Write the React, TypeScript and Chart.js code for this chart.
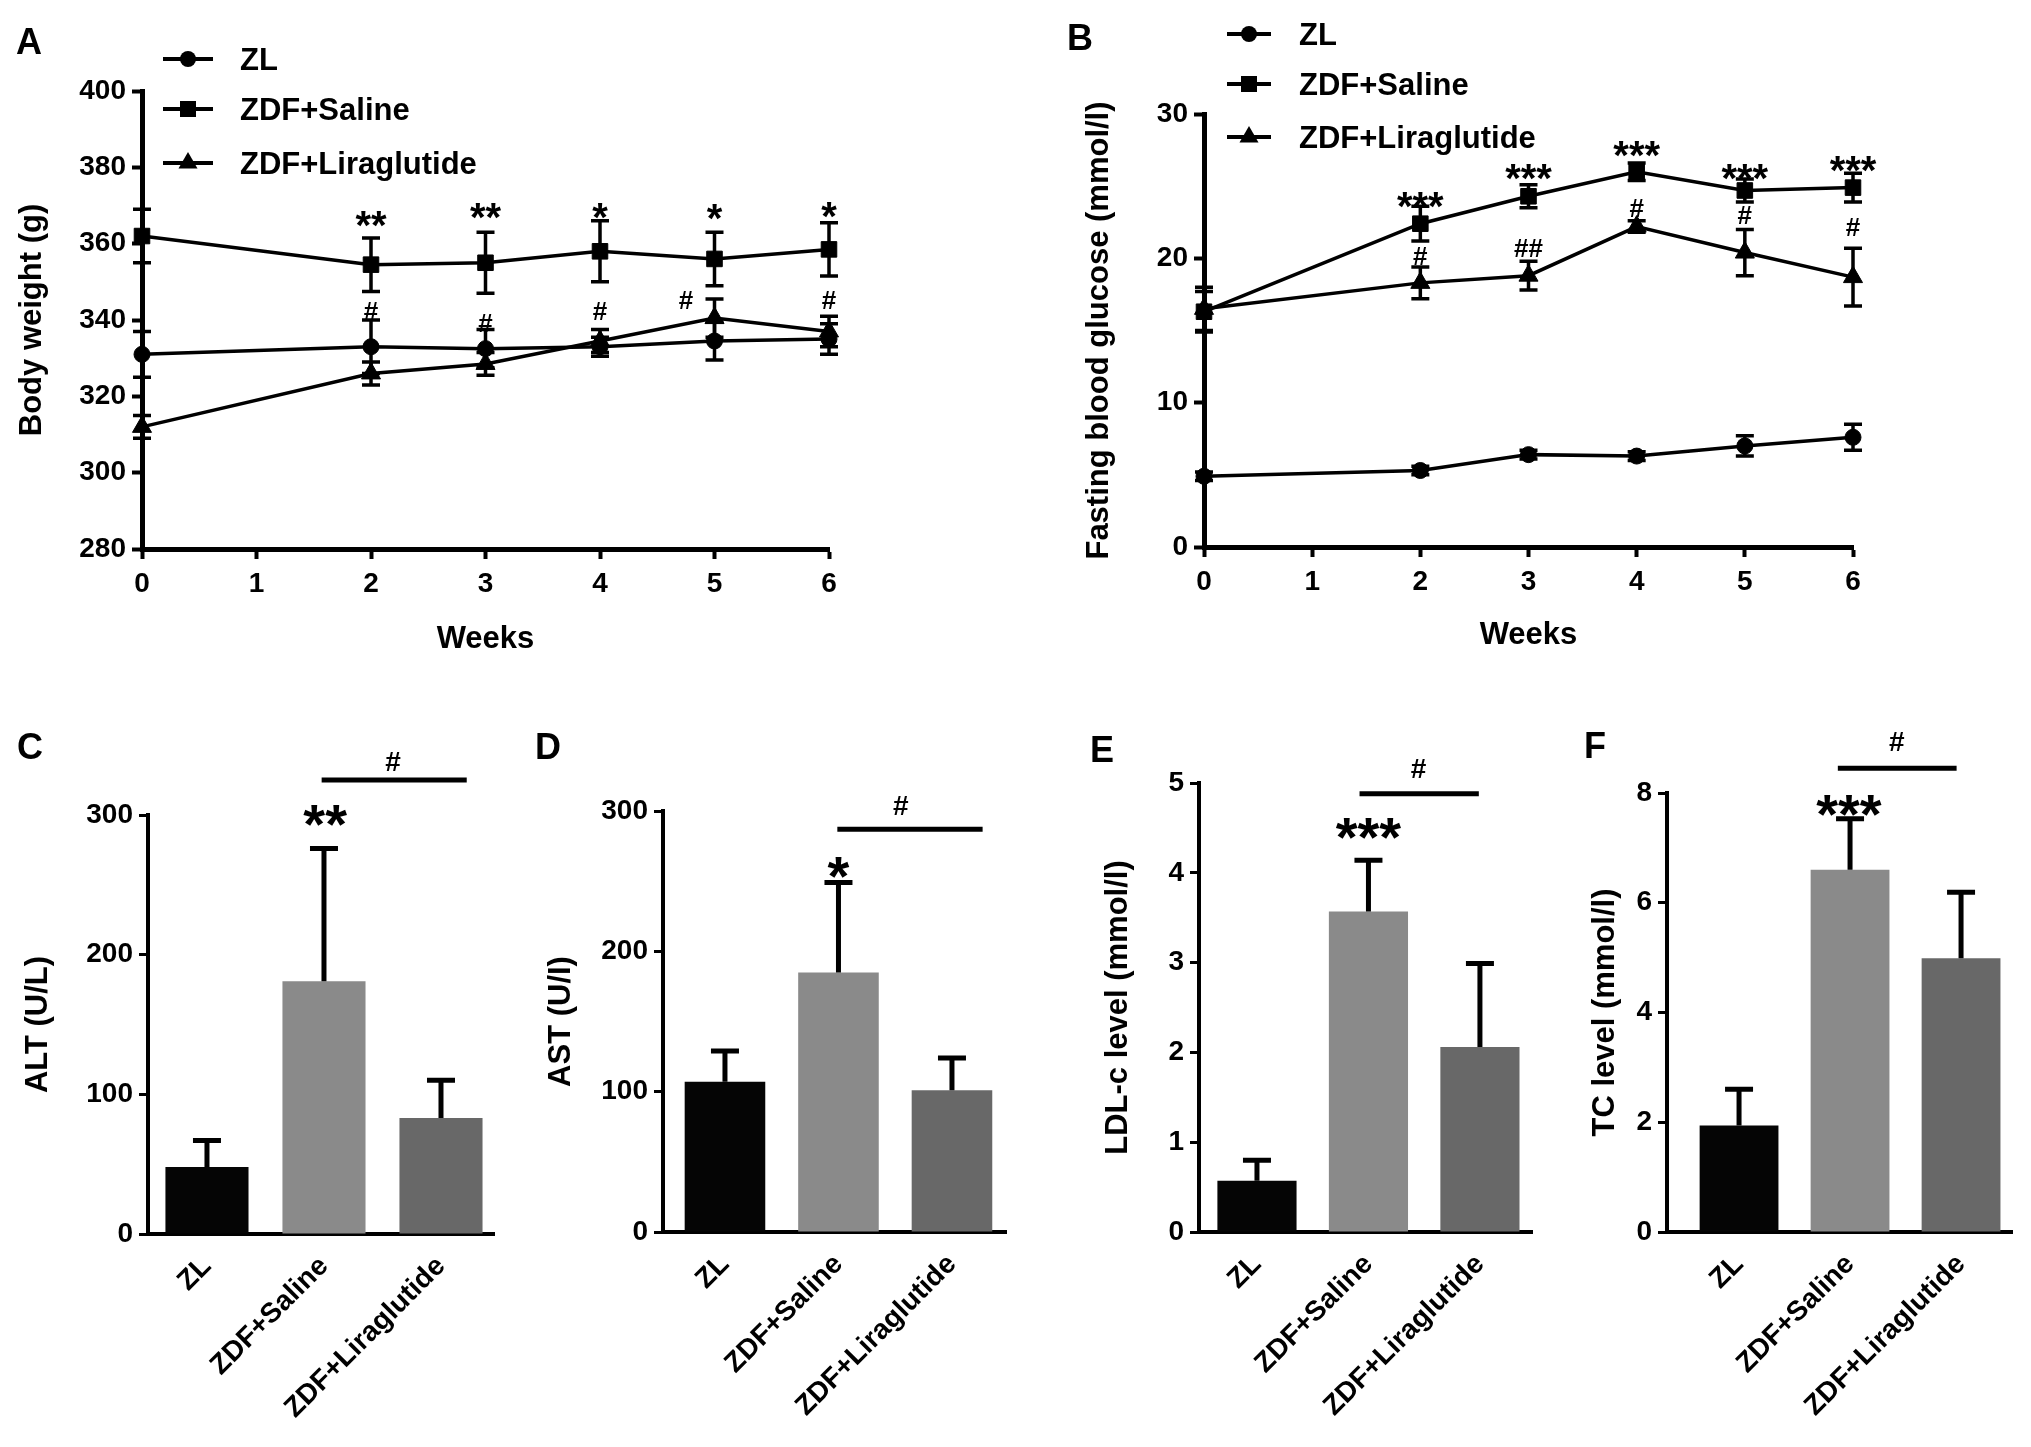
import React, { useEffect, useRef } from 'react';
import { Chart, registerables } from 'chart.js';

Chart.register(...registerables);

const FONT = '"Liberation Sans", Arial, Helvetica, sans-serif';
Chart.defaults.font.family = FONT;
Chart.defaults.color = '#000';

// ---------------- data ----------------
const groups = ['ZL', 'ZDF+Saline', 'ZDF+Liraglutide'];
const weeks = [0, 2, 3, 4, 5, 6];

// Panel A: body weight (g)
const bwZL = [331, 333, 332.5, 333, 334.5, 335];
const bwZLErr = [6, 7, 5, 2.5, 5, 4];
const bwSaline = [362, 354.5, 355, 358, 356, 358.5];
const bwSalineErr = [7, 7, 8, 8, 7, 7];
const bwLira = [312, 326, 328.5, 334.5, 340.5, 337];
const bwLiraErr = [3, 3, 3, 3, 5, 4];

// Panel B: fasting blood glucose (mmol/l)
const fbgZL = [4.9, 5.3, 6.4, 6.3, 7.0, 7.6];
const fbgZLErr = [0.3, 0.3, 0.3, 0.3, 0.7, 0.9];
const fbgSaline = [16.3, 22.4, 24.3, 26.0, 24.7, 24.9];
const fbgSalineErr = [1.4, 1.2, 0.8, 0.6, 0.8, 1.0];
const fbgLira = [16.5, 18.3, 18.8, 22.2, 20.4, 18.7];
const fbgLiraErr = [1.5, 1.1, 1.0, 0.4, 1.6, 2.0];

// Panels C-F (bars: mean, SD)
const alt = [48, 181, 83];
const altErr = [19, 95, 27];
const ast = [107, 185, 101];
const astErr = [22, 64, 23];
const ldl = [0.57, 3.57, 2.06];
const ldlErr = [0.23, 0.57, 0.93];
const tc = [1.94, 6.6, 4.99];
const tcErr = [0.66, 0.93, 1.2];

// significance marks (anchored in data units)
const sigA = [
  { x: 2, y: 367, text: '**' }, { x: 3, y: 369, text: '**' }, { x: 4, y: 369, text: '*' },
  { x: 5, y: 368.7, text: '*' }, { x: 6, y: 369.3, text: '*' },
  { x: 2, y: 342.3, text: '#' }, { x: 3, y: 339.4, text: '#' }, { x: 4, y: 342.3, text: '#' },
  { x: 4.75, y: 345.4, text: '#' }, { x: 6, y: 345.4, text: '#' },
];
const sigB = [
  { x: 2, y: 24.2, text: '***' }, { x: 3, y: 26.1, text: '***' }, { x: 4, y: 27.7, text: '***' },
  { x: 5, y: 26.1, text: '***' }, { x: 6, y: 26.7, text: '***' },
  { x: 2, y: 20.2, text: '#' }, { x: 3, y: 20.7, text: '##' }, { x: 4, y: 23.5, text: '#' },
  { x: 5, y: 23.0, text: '#' }, { x: 6, y: 22.2, text: '#' },
];
const sigC = { line: { x1: 0.98, x2: 2.22, y: 325 }, texts: [{ x: 1.59, y: 338.6, text: '#' }, { x: 1.01, y: 302, text: '**' }] };
const sigD = { line: { x1: 0.99, x2: 2.27, y: 287 }, texts: [{ x: 1.55, y: 304, text: '#' }, { x: 1.0, y: 262, text: '*' }] };
const sigE = { line: { x1: 0.92, x2: 1.99, y: 4.88 }, texts: [{ x: 1.45, y: 5.17, text: '#' }, { x: 1.0, y: 4.53, text: '***' }] };
const sigF = { line: { x1: 0.89, x2: 1.96, y: 8.45 }, texts: [{ x: 1.42, y: 8.94, text: '#' }, { x: 0.99, y: 7.83, text: '***' }] };

const barColors = ['#050505', '#8a8a8a', '#686868'];
const markerStyles = ['circle', 'rect', 'triangle'];

// ---------------- helpers ----------------
const tickFont = { size: 28, weight: 'bold' as const };
const titleFont = { size: 31, weight: 'bold' as const };

function centerOffset(t: string, size: number) {
  if (/^\*+$/.test(t)) return 0.55 * size;
  return 0.355 * size;
}

function drawMarker(ctx: CanvasRenderingContext2D, style: string, x: number, y: number) {
  ctx.beginPath();
  if (style === 'circle') {
    ctx.arc(x, y, 8, 0, Math.PI * 2);
  } else if (style === 'rect') {
    ctx.rect(x - 8, y - 8, 16, 16);
  } else {
    const r = 11;
    ctx.moveTo(x, y - r);
    ctx.lineTo(x + r * 0.866, y + r * 0.5);
    ctx.lineTo(x - r * 0.866, y + r * 0.5);
    ctx.closePath();
  }
  ctx.fill();
}

function errorBarPlugin(errs: number[][], o: { upOnly: boolean; cap: number; width: number; before: boolean }) {
  const draw = (chart: any) => {
    const ctx: CanvasRenderingContext2D = chart.ctx;
    const ys = chart.scales.y;
    ctx.save();
    ctx.strokeStyle = '#000';
    ctx.lineWidth = o.width;
    chart.data.datasets.forEach((ds: any, i: number) => {
      const e = errs[i];
      if (!e) return;
      const meta = chart.getDatasetMeta(i);
      meta.data.forEach((el: any, j: number) => {
        const raw = ds.data[j];
        const v = typeof raw === 'number' ? raw : raw.y;
        const x = el.x;
        const yTop = ys.getPixelForValue(v + e[j]);
        const yMid = ys.getPixelForValue(v);
        const yBot = o.upOnly ? yMid : ys.getPixelForValue(v - e[j]);
        ctx.beginPath();
        ctx.moveTo(x, yBot);
        ctx.lineTo(x, yTop);
        ctx.moveTo(x - o.cap, yTop);
        ctx.lineTo(x + o.cap, yTop);
        if (!o.upOnly) {
          ctx.moveTo(x - o.cap, yBot);
          ctx.lineTo(x + o.cap, yBot);
        }
        ctx.stroke();
      });
    });
    ctx.restore();
  };
  return o.before ? { id: 'errbars', beforeDatasetsDraw: draw } : { id: 'errbars', afterDatasetsDraw: draw };
}

type Txt = { x: number; y: number; text: string };
function annotPlugin(spec: {
  texts: Txt[];
  starSize: number;
  hashSize: number;
  line?: { x1: number; x2: number; y: number };
  letter: { text: string; x: number; y: number };
}) {
  return {
    id: 'annot',
    afterDraw(chart: any) {
      const ctx: CanvasRenderingContext2D = chart.ctx;
      const xs = chart.scales.x;
      const ys = chart.scales.y;
      ctx.save();
      ctx.fillStyle = '#000';
      ctx.strokeStyle = '#000';
      if (spec.line) {
        const y = ys.getPixelForValue(spec.line.y);
        ctx.lineWidth = 5;
        ctx.beginPath();
        ctx.moveTo(xs.getPixelForValue(spec.line.x1), y);
        ctx.lineTo(xs.getPixelForValue(spec.line.x2), y);
        ctx.stroke();
      }
      ctx.textAlign = 'center';
      ctx.textBaseline = 'alphabetic';
      spec.texts.forEach((t) => {
        const size = t.text.includes('*') ? spec.starSize : spec.hashSize;
        ctx.font = `bold ${size}px ${FONT}`;
        const x = xs.getPixelForValue(t.x);
        const y = ys.getPixelForValue(t.y) + centerOffset(t.text, size);
        ctx.fillText(t.text, x, y);
      });
      ctx.font = `bold 36px ${FONT}`;
      ctx.fillText(spec.letter.text, spec.letter.x, spec.letter.y + 0.36 * 36);
      ctx.restore();
    },
  };
}

function lineLegendPlugin(spec: { x1: number; x2: number; xText: number; ys: number[]; size: number }) {
  return {
    id: 'lineLegend',
    afterDraw(chart: any) {
      const ctx: CanvasRenderingContext2D = chart.ctx;
      ctx.save();
      ctx.fillStyle = '#000';
      ctx.strokeStyle = '#000';
      chart.data.datasets.forEach((ds: any, i: number) => {
        const y = spec.ys[i];
        ctx.lineWidth = 4;
        ctx.beginPath();
        ctx.moveTo(spec.x1, y);
        ctx.lineTo(spec.x2, y);
        ctx.stroke();
        drawMarker(ctx, ds.pointStyle, (spec.x1 + spec.x2) / 2, y);
        ctx.font = `bold ${spec.size}px ${FONT}`;
        ctx.textAlign = 'left';
        ctx.textBaseline = 'alphabetic';
        ctx.fillText(ds.label, spec.xText, y + 0.36 * spec.size);
      });
      ctx.restore();
    },
  };
}

function lineDataset(label: string, ys: number[], style: string, radius: number) {
  return {
    label,
    data: weeks.map((w, i) => ({ x: w, y: ys[i] })),
    borderColor: '#000',
    backgroundColor: '#000',
    borderWidth: 3.5,
    pointStyle: style,
    pointRadius: radius,
    pointBackgroundColor: '#000',
    pointBorderColor: '#000',
    pointBorderWidth: 1,
    tension: 0,
    fill: false,
    clip: false,
  };
}

type LineP = {
  series: number[][];
  errors: number[][];
  ymin: number; ymax: number; ystep: number; yTitle: string;
  padTop: number; padRight: number; yw: number; xh: number; yTitlePad: number; xTitlePad: number;
  sig: Txt[];
  legend: { x1: number; x2: number; xText: number; ys: number[] };
  letter: { text: string; x: number; y: number };
};

function lineConfig(p: LineP): any {
  const radii = [8, 11, 11];
  return {
    type: 'line',
    data: {
      datasets: groups.map((g, i) => lineDataset(g, p.series[i], markerStyles[i], radii[i])),
    },
    options: {
      animation: false,
      responsive: false,
      events: [],
      layout: { padding: { top: p.padTop, right: p.padRight, left: 0, bottom: 0 } },
      plugins: { legend: { display: false }, tooltip: { enabled: false } },
      scales: {
        x: {
          type: 'linear', min: 0, max: 6,
          ticks: { stepSize: 1, font: tickFont, color: '#000', padding: 8 },
          grid: { drawOnChartArea: false, drawTicks: true, tickLength: 10, tickWidth: 4, tickColor: '#000' },
          border: { display: true, color: '#000', width: 5 },
          title: { display: true, text: 'Weeks', font: titleFont, color: '#000', padding: { top: 0, bottom: p.xTitlePad } },
          afterFit: (s: any) => { s.height = p.xh; },
        },
        y: {
          type: 'linear', min: p.ymin, max: p.ymax,
          ticks: { stepSize: p.ystep, font: tickFont, color: '#000', padding: 6 },
          grid: { drawOnChartArea: false, drawTicks: true, tickLength: 10, tickWidth: 4, tickColor: '#000' },
          border: { display: true, color: '#000', width: 5 },
          title: { display: true, text: p.yTitle, font: titleFont, color: '#000', padding: { top: p.yTitlePad, bottom: 0 } },
          afterFit: (s: any) => { s.width = p.yw; },
        },
      },
    },
    plugins: [
      errorBarPlugin(p.errors, { upOnly: false, cap: 9, width: 3.5, before: true }),
      annotPlugin({ texts: p.sig, starSize: 40, hashSize: 26, letter: p.letter }),
      lineLegendPlugin({ ...p.legend, size: 31 }),
    ],
  };
}

type BarP = {
  values: number[]; errors: number[];
  ymax: number; ystep: number; yTitle: string;
  padTop: number; padRight: number; yw: number; xh: number; yTitlePad: number;
  catStart: number; catRange: number;
  sig: { line: { x1: number; x2: number; y: number }; texts: Txt[] };
  letter: { text: string; x: number; y: number };
};

function barConfig(p: BarP): any {
  return {
    type: 'bar',
    data: {
      labels: groups,
      datasets: [{ data: p.values, backgroundColor: barColors, borderWidth: 0, barPercentage: 0.71, categoryPercentage: 1 }],
    },
    options: {
      animation: false,
      responsive: false,
      events: [],
      layout: { padding: { top: p.padTop, right: p.padRight, left: 0, bottom: 0 } },
      plugins: { legend: { display: false }, tooltip: { enabled: false } },
      scales: {
        x: {
          ticks: { font: { size: 28, weight: 'bold' }, color: '#000', minRotation: 45, maxRotation: 45, autoSkip: false, padding: 16 },
          grid: { display: false, drawTicks: false },
          border: { display: true, color: '#000', width: 4 },
          afterBuildTicks: (s: any) => { s._startValue = p.catStart; s._valueRange = p.catRange; },
          afterFit: (s: any) => { s.height = p.xh; },
        },
        y: {
          min: 0, max: p.ymax,
          ticks: { stepSize: p.ystep, font: tickFont, color: '#000', padding: 6 },
          grid: { drawOnChartArea: false, drawTicks: true, tickLength: 9, tickWidth: 3, tickColor: '#000' },
          border: { display: true, color: '#000', width: 4 },
          title: { display: true, text: p.yTitle, font: titleFont, color: '#000', padding: { top: p.yTitlePad, bottom: 0 } },
          afterFit: (s: any) => { s.width = p.yw; },
        },
      },
    },
    plugins: [
      errorBarPlugin([p.errors], { upOnly: true, cap: 14, width: 5, before: false }),
      annotPlugin({ texts: p.sig.texts, line: p.sig.line, starSize: 56, hashSize: 28, letter: p.letter }),
    ],
  };
}

type Rect = { left: number; top: number; width: number; height: number };

function ChartBox({ rect, make }: { rect: Rect; make: () => any }) {
  const ref = useRef<HTMLCanvasElement>(null);
  useEffect(() => {
    const chart = new Chart(ref.current as HTMLCanvasElement, make());
    return () => chart.destroy();
  }, []);
  return (
    <canvas
      ref={ref}
      width={rect.width}
      height={rect.height}
      style={{ position: 'absolute', left: rect.left, top: rect.top, width: rect.width, height: rect.height }}
    />
  );
}

export default function App() {
  return (
    <div style={{ position: 'absolute', left: 0, top: 0, width: 2031, height: 1447, background: '#fff', overflow: 'hidden' }}>
      <ChartBox
        rect={{ left: 0, top: 0, width: 1000, height: 680 }}
        make={() => lineConfig({
          series: [bwZL, bwSaline, bwLira],
          errors: [bwZLErr, bwSalineErr, bwLiraErr],
          ymin: 280, ymax: 400, ystep: 20, yTitle: 'Body weight (g)',
          padTop: 91, padRight: 171, yw: 142, xh: 131, yTitlePad: 13.4, xTitlePad: 22,
          sig: sigA,
          legend: { x1: 163, x2: 213, xText: 240, ys: [59, 109, 163] },
          letter: { text: 'A', x: 29, y: 41 },
        })}
      />
      <ChartBox
        rect={{ left: 1000, top: 0, width: 1031, height: 680 }}
        make={() => lineConfig({
          series: [fbgZL, fbgSaline, fbgLira],
          errors: [fbgZLErr, fbgSalineErr, fbgLiraErr],
          ymin: 0, ymax: 30, ystep: 10, yTitle: 'Fasting blood glucose (mmol/l)',
          padTop: 114, padRight: 178, yw: 204, xh: 133, yTitlePad: 80.4, xTitlePad: 25.5,
          sig: sigB,
          legend: { x1: 227, x2: 271, xText: 299, ys: [34, 84, 137] },
          letter: { text: 'B', x: 80, y: 37 },
        })}
      />
      <ChartBox
        rect={{ left: 0, top: 680, width: 500, height: 767 }}
        make={() => barConfig({
          values: alt, errors: altErr, ymax: 300, ystep: 100, yTitle: 'ALT (U/L)',
          padTop: 135, padRight: 6, yw: 148, xh: 213, yTitlePad: 19.4,
          catStart: -0.504, catRange: 2.957,
          sig: sigC, letter: { text: 'C', x: 30, y: 66 },
        })}
      />
      <ChartBox
        rect={{ left: 500, top: 680, width: 530, height: 767 }}
        make={() => barConfig({
          values: ast, errors: astErr, ymax: 300, ystep: 100, yTitle: 'AST (U/I)',
          padTop: 131, padRight: 24, yw: 163, xh: 215, yTitlePad: 42.4,
          catStart: -0.546, catRange: 3.022,
          sig: sigD, letter: { text: 'D', x: 48, y: 66 },
        })}
      />
      <ChartBox
        rect={{ left: 1030, top: 680, width: 530, height: 767 }}
        make={() => barConfig({
          values: ldl, errors: ldlErr, ymax: 5, ystep: 1, yTitle: 'LDL-c level (mmol/l)',
          padTop: 103, padRight: 28, yw: 169, xh: 215, yTitlePad: 69.4,
          catStart: -0.52, catRange: 2.987,
          sig: sigE, letter: { text: 'E', x: 72, y: 69 },
        })}
      />
      <ChartBox
        rect={{ left: 1560, top: 680, width: 471, height: 767 }}
        make={() => barConfig({
          values: tc, errors: tcErr, ymax: 8, ystep: 2, yTitle: 'TC level (mmol/l)',
          padTop: 113, padRight: 19, yw: 107, xh: 215, yTitlePad: 26.4,
          catStart: -0.649, catRange: 3.108,
          sig: sigF, letter: { text: 'F', x: 35, y: 65 },
        })}
      />
    </div>
  );
}
